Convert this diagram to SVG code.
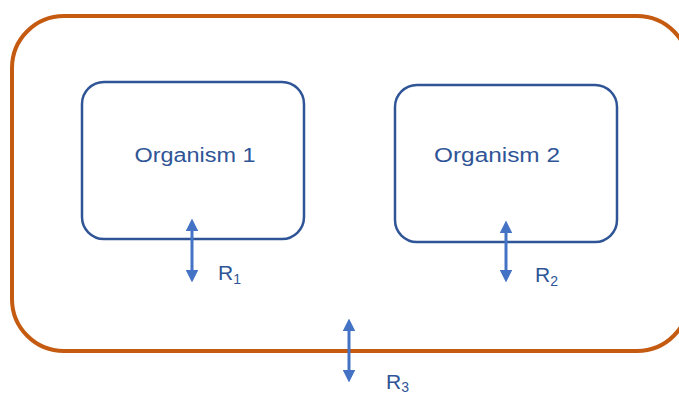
<svg xmlns="http://www.w3.org/2000/svg" width="679" height="394" viewBox="0 0 679 394">
  <defs>
    <marker id="head" viewBox="0 0 10 10" refX="5" refY="5" markerWidth="4.3" markerHeight="4.3" orient="auto-start-reverse" markerUnits="strokeWidth">
      <path d="M0,0 L10,5 L0,10 z" fill="#4472C4"/>
    </marker>
    <style>
      .env { fill: none; stroke: #C55A11; stroke-width: 4; }
      .org { fill: #FFFFFF; stroke: #2F5597; stroke-width: 2.5; }
      .lbl { font-family: "Liberation Sans", "DejaVu Sans", sans-serif; fill: #2F5597; font-size: 20px; }
      .rl { font-family: "Liberation Sans", "DejaVu Sans", sans-serif; fill: #2F5597; font-size: 21px; }
      .sub { font-size: 14px; }
      .flow { stroke: #4472C4; stroke-width: 3; fill: none; marker-start: url(#head); marker-end: url(#head); }
    </style>
  </defs>
  <rect width="679" height="394" fill="#FFFFFF"/>

  <g id="environment">
    <rect class="env" x="12" y="16" width="677" height="335" rx="52" ry="52"/>
  </g>

  <g id="organism1">
    <rect class="org" x="82" y="82" width="222" height="157" rx="22" ry="22"/>
    <text class="lbl" x="195" y="162" text-anchor="middle" textLength="121" lengthAdjust="spacingAndGlyphs">Organism 1</text>
  </g>

  <g id="organism2">
    <rect class="org" x="395" y="85" width="222" height="157" rx="22" ry="22"/>
    <text class="lbl" x="497" y="162" text-anchor="middle" textLength="126" lengthAdjust="spacingAndGlyphs">Organism 2</text>
  </g>

  <g id="connectors">
    <line class="flow" x1="192" y1="225" x2="192" y2="276"/>
    <line class="flow" x1="506" y1="227" x2="506" y2="276"/>
    <line class="flow" x1="349" y1="325" x2="349" y2="376"/>
  </g>

  <g id="labels">
    <text class="rl" x="218" y="280">R<tspan class="sub" dy="4">1</tspan></text>
    <text class="rl" x="535" y="282">R<tspan class="sub" dy="4">2</tspan></text>
    <text class="rl" x="386" y="389">R<tspan class="sub" dy="3">3</tspan></text>
  </g>
</svg>
